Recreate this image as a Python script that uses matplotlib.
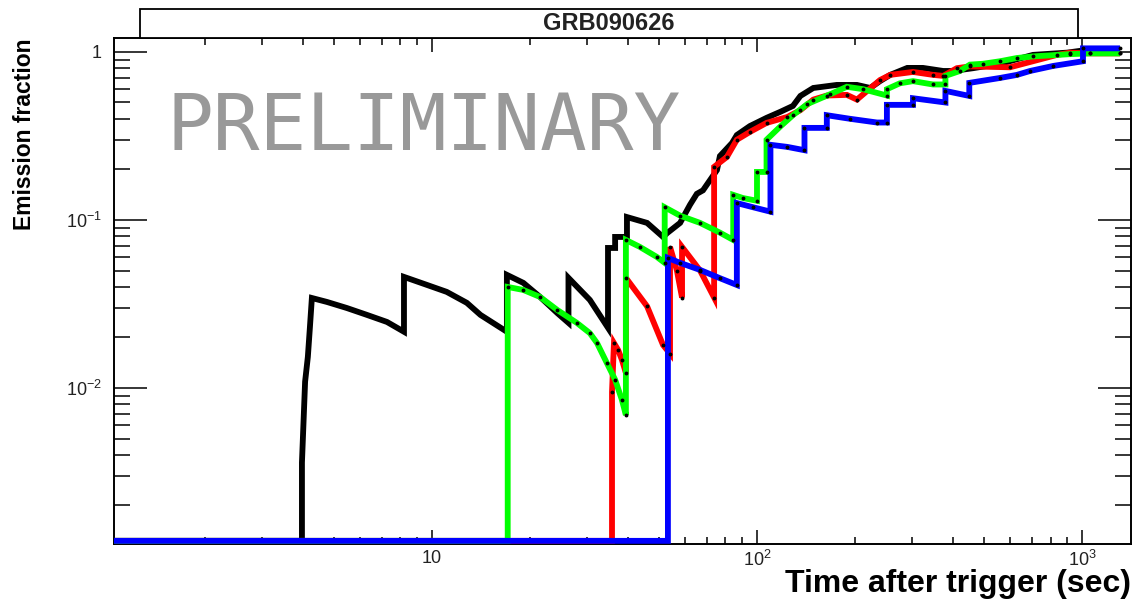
import numpy as np
import matplotlib
matplotlib.use('Agg')
import matplotlib.pyplot as plt
from matplotlib.patches import Rectangle
from matplotlib.ticker import FixedLocator, FixedFormatter, LogLocator, NullFormatter

plt.rcParams['font.family'] = ['Liberation Sans', 'DejaVu Sans']
plt.rcParams['mathtext.fontset'] = 'custom'
plt.rcParams['mathtext.rm'] = 'Liberation Sans'
plt.rcParams['mathtext.it'] = 'Liberation Sans:italic'
plt.rcParams['mathtext.bf'] = 'Liberation Sans:bold'

# emission fraction vs time after trigger
black_t = [1.05, 3.98, 3.98, 4.07, 4.15, 4.21, 4.27, 4.75, 5.47, 6.31, 7.27, 8.2,
           8.2, 9.66, 11.1, 12.8, 14.1, 17.0,
           17.0, 19.1, 21.5, 24.3, 26.3,
           26.3, 30.6, 34.8,
           34.8, 36.6, 36.6, 39.8, 39.8, 45.9, 51.4,
           53.0, 58.0, 62.2, 65.3, 68.2, 75.3, 76.9, 83.8, 86.7, 95.1, 107, 118, 129, 136, 149,
           176, 203, 223, 239, 257, 290, 324, 374, 401, 462, 560, 707, 900, 1007, 1309]
black_f = [0, 0, 0.0036, 0.0109, 0.0153, 0.0228, 0.0343, 0.0325, 0.0299, 0.0272, 0.0247, 0.0216,
           0.0458, 0.0410, 0.0373, 0.0321, 0.0272, 0.0216,
           0.0471, 0.0422, 0.0348, 0.0279, 0.0244,
           0.0452, 0.0334, 0.0228,
           0.0681, 0.0681, 0.0792, 0.0792, 0.104, 0.096, 0.0792,
           0.0837, 0.096, 0.123, 0.143, 0.150, 0.198, 0.24, 0.287, 0.32, 0.362, 0.405, 0.44, 0.477, 0.547, 0.61,
           0.636, 0.636, 0.61, 0.67, 0.73, 0.803, 0.803, 0.77, 0.77, 0.80, 0.85, 0.96, 0.99, 1.02, 1.02]

red_t = [1.05, 35.8, 35.8, 36.3, 37.4, 38.4, 39.5,
         39.5, 45.9, 51.4, 54.0,
         54.0, 56.7, 58.8,
         58.8, 66.8, 73.8,
         73.8, 80.8, 86.7, 95.1, 107, 124, 136, 149, 164, 189, 203, 239, 257, 302, 348, 374,
         412, 452, 600, 838, 919, 1059, 1309]
red_f = [0, 0, 0.00946, 0.0185, 0.0168, 0.0147, 0.0123,
         0.0452, 0.0306, 0.018, 0.016,
         0.0691, 0.050, 0.0345,
         0.0691, 0.050, 0.0345,
         0.207, 0.237, 0.30, 0.334, 0.378, 0.41, 0.45, 0.52, 0.55, 0.555, 0.52, 0.68, 0.73, 0.76, 0.73, 0.72,
         0.80, 0.82, 0.81, 0.96, 0.99, 0.98, 0.98]

green_t = [1.05, 17.1, 17.1, 19.1, 21.5, 24.3, 27.9, 30.6, 32.2, 34.5, 36.6, 38.4, 39.5,
           39.5, 43.6, 49.2, 52.0,
           52.0, 58.0, 66.8, 76.9, 84.5,
           84.5, 90.5, 100,
           100, 107,
           107, 118, 129, 143, 168, 189, 212, 251,
           251, 275, 302, 348, 380,
           380, 421, 452, 496, 560, 631, 707, 919, 1059, 1309]
green_f = [0, 0, 0.0399, 0.0383, 0.0348, 0.0291, 0.0244, 0.0212, 0.0185, 0.0141, 0.0112, 0.0085, 0.0069,
           0.076, 0.0691, 0.0602, 0.0555,
           0.119, 0.106, 0.096, 0.084, 0.076,
           0.141, 0.135, 0.13,
           0.193, 0.193,
           0.30, 0.36, 0.42, 0.49, 0.56, 0.62, 0.60, 0.55,
           0.60, 0.65, 0.67, 0.64, 0.64,
           0.72, 0.77, 0.84, 0.85, 0.88, 0.92, 0.94, 0.97, 0.98, 0.98]

blue_t = [1.05, 53.2, 53.2, 58.0, 66.8, 76.9, 86.7,
          86.7, 97.2, 110,
          110, 124, 140,
          140, 164,
          164, 193, 234, 251,
          251, 302,
          302, 380,
          380, 450,
          450, 560, 631, 692, 815, 1007,
          1007, 1309]
blue_f = [0, 0, 0.0594, 0.0555, 0.0504, 0.045, 0.041,
          0.126, 0.119, 0.112,
          0.28, 0.272, 0.26,
          0.353, 0.353,
          0.42, 0.40, 0.38, 0.38,
          0.484, 0.484,
          0.53, 0.50,
          0.586, 0.547,
          0.654, 0.70, 0.73, 0.77, 0.825, 0.88,
          1.05, 1.05]

series = [(black_t, black_f, 'black'),
          (red_t, red_f, '#ff0000'),
          (green_t, green_f, '#00ff00'),
          (blue_t, blue_f, '#0000ff')]

x_ticks = [10, 100, 1000]
x_labels = ['10', '$10^{2}$', '$10^{3}$']
y_ticks = [0.01, 0.1, 1]
y_labels = ['$10^{-2}$', '$10^{-1}$', '1']

W, H = 1134, 601
fig = plt.figure(figsize=(W / 100, H / 100), dpi=100)
ax = fig.add_axes([114 / W, (H - 544) / H, (1131 - 114) / W, (544 - 38) / H])

ymin, ymax = 0.001178, 1.21
floor = 0.00123  # empty bins sit on the bottom of the frame

for t, f, col in series:
    t = np.array(t, dtype=float)
    f = np.array(f, dtype=float)
    fp = np.where(f > 0, f, floor)
    ax.plot(t, fp, color=col, lw=4.2, solid_joinstyle='miter', solid_capstyle='butt', zorder=3)
    m = f > 0
    if col != 'black':
        ax.plot(t[m], f[m], ls='none', marker='o', ms=1.8, color='black', zorder=4)

ax.set_xscale('log')
ax.set_yscale('log')
ax.set_xlim(1.051, 1415)
ax.set_ylim(ymin, ymax)

ax.xaxis.set_major_locator(FixedLocator(x_ticks))
ax.xaxis.set_major_formatter(FixedFormatter(x_labels))
ax.yaxis.set_major_locator(FixedLocator(y_ticks))
ax.yaxis.set_major_formatter(FixedFormatter(y_labels))
ax.xaxis.set_minor_locator(LogLocator(base=10, subs=np.arange(2, 10), numticks=20))
ax.yaxis.set_minor_locator(LogLocator(base=10, subs=np.arange(2, 10), numticks=20))
ax.xaxis.set_minor_formatter(NullFormatter())
ax.yaxis.set_minor_formatter(NullFormatter())

ax.tick_params(axis='both', which='both', direction='in', top=True, right=True,
               width=1.1, colors='black', labelcolor='#222222', labelsize=13)
ax.tick_params(axis='x', which='major', length=10, pad=4)
ax.tick_params(axis='x', which='minor', length=5)
ax.tick_params(axis='y', which='major', length=24, pad=9)
ax.tick_params(axis='y', which='minor', length=11.5)
for s in ax.spines.values():
    s.set_linewidth(1.4)

# title box
fig.patches.append(Rectangle((140 / W, (H - 38) / H), (1078 - 140) / W, 29 / H,
                             transform=fig.transFigure, facecolor='white',
                             edgecolor='black', lw=1.3))
fig.text(609 / W, (H - 23) / H, 'GRB090626', ha='center', va='center',
         fontsize=17, fontweight='bold', color='#222222')

ax.text(167 / W, (H - 150) / H, 'PRELIMINARY', transform=fig.transFigure,
        family='DejaVu Sans Mono', fontsize=56, color='#999999',
        ha='left', va='baseline', zorder=1)

fig.text(25 / W, (H - 38) / H, 'Emission fraction', rotation=90, ha='center', va='top',
         fontsize=16.5, fontweight='bold')
fig.text(1131 / W, (H - 592) / H, 'Time after trigger (sec)', ha='right', va='baseline',
         fontsize=23, fontweight='bold')

fig.savefig('out.png', dpi=100)
